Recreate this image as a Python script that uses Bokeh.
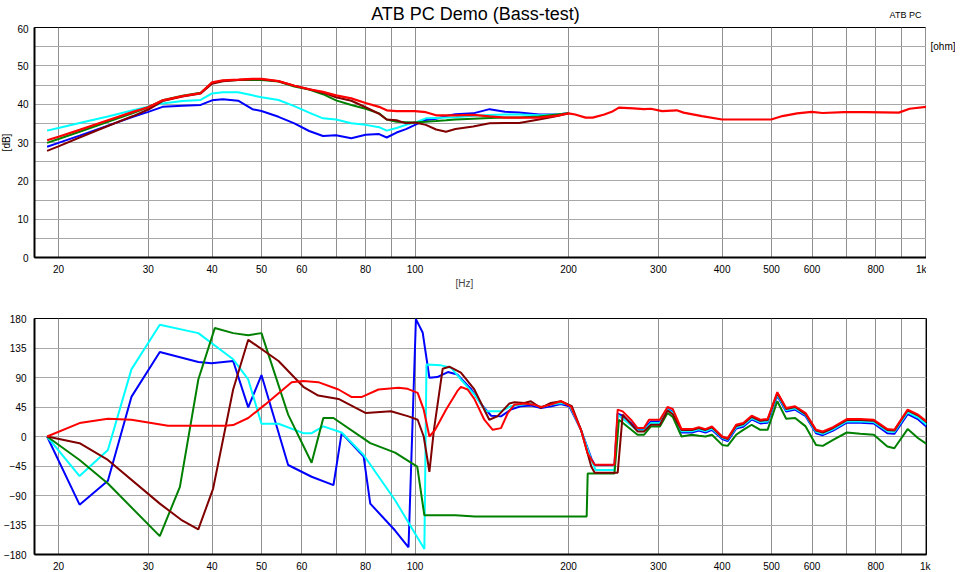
import math
from bokeh.plotting import figure
from bokeh.models import FixedTicker, CustomJSTickFormatter, Label, Title, Range1d
from bokeh.layouts import column, row
from bokeh.embed import file_html
from bokeh.resources import INLINE

# ---------------- data ----------------
X_TICKS = [20, 30, 40, 50, 60, 80, 100, 200, 300, 400, 500, 600, 800, 1000]
X_MINOR = [70, 90, 700, 900]
DB_TICKS = [0, 10, 20, 30, 40, 50, 60]
DB_MINOR = [5, 15, 25, 35, 45, 55]
DEG_TICKS = [-180, -135, -90, -45, 0, 45, 90, 135, 180]

TITLE = "ATB PC Demo (Bass-test)"

# magnitude [dB] vs frequency [Hz]
mag_hz = [19, 20, 22, 25, 28, 30, 32, 35, 38, 40, 42, 45, 48, 50, 54, 58, 62, 66, 70,
          75, 80, 85, 88, 92, 96, 100, 105, 110, 115, 120, 130, 140, 150, 160, 175, 190, 200]
mag_blue = [28.9, 29.9, 31.8, 34.4, 36.7, 38.0, 39.3, 39.6, 39.8, 41.0, 41.3, 40.9, 38.7, 38.2,
            36.7, 35.0, 33.0, 31.7, 31.9, 31.1, 32.0, 32.2, 31.3, 32.6, 33.5, 34.6, 35.9, 36.2,
            36.9, 37.4, 37.6, 38.7, 38.0, 37.8, 37.3, 37.3, 37.6]
mag_cyan = [33.1, 33.8, 35.1, 36.8, 38.4, 39.3, 40.2, 40.8, 41.1, 42.8, 43.1, 43.1, 42.3, 41.8,
            41.1, 39.5, 37.8, 36.3, 36.0, 35.0, 34.6, 34.0, 33.1, 33.8, 34.6, 35.2, 36.3, 36.4,
            36.5, 36.6, 37.0, 37.2, 37.3, 37.3, 37.1, 37.3, 37.6]
mag_green = [29.9, 30.9, 32.8, 35.4, 37.7, 39.2, 41.0, 42.2, 43.0, 45.5, 46.1, 46.3, 46.3, 46.3,
             45.9, 44.6, 43.8, 42.6, 41.0, 39.8, 38.8, 37.6, 36.0, 35.4, 35.3, 35.2, 35.4, 35.6,
             35.8, 36.0, 36.2, 36.4, 36.5, 36.5, 36.8, 37.3, 37.6]
mag_maroon = [27.8, 29.0, 31.3, 34.3, 36.9, 38.6, 40.8, 42.0, 42.8, 45.3, 46.0, 46.3, 46.5, 46.5,
              46.0, 44.8, 43.9, 43.0, 41.8, 40.9, 39.2, 37.5, 36.0, 35.8, 35.0, 35.2, 34.6, 33.4,
              32.8, 33.5, 34.2, 35.0, 35.1, 35.1, 36.0, 36.9, 37.6]
mag_red_lo = [30.6, 31.5, 33.3, 35.8, 38.0, 39.2, 41.0, 42.1, 42.9, 45.7, 46.2, 46.4, 46.6, 46.6,
              46.0, 44.8, 43.9, 43.2, 42.3, 41.5, 40.3, 39.3, 38.4, 38.2, 38.2, 38.2, 37.9, 37.1,
              37.1, 37.1, 37.2, 36.8, 36.5, 36.5, 36.5, 37.0, 37.6]
mag_red_hi_hz = [206, 216, 223, 235, 243, 251, 268, 281, 290, 305, 326, 336, 365, 400, 438,
                 499, 525, 561, 599, 629, 694, 765, 888, 932, 1006]
mag_red_hi = [37.3, 36.5, 36.5, 37.3, 38.0, 39.1, 38.9, 38.7, 38.8, 38.2, 38.4, 37.8, 36.9, 36.0,
              36.0, 36.0, 36.9, 37.6, 38.0, 37.7, 37.9, 37.9, 37.8, 38.8, 39.3]

# phase [deg] vs frequency [Hz]; low part per series, high part on a shared grid
ph_hi_hz = [333, 349, 360, 371, 382, 400, 410, 426, 440, 457, 475, 491, 513, 534, 556, 583,
            611, 630, 660, 702, 746, 793, 843, 870, 924, 969, 1006]

ph_blue_hz = [19, 22, 25, 27.8, 31.6, 37.6, 39.9, 44, 47.1, 50, 56.4, 62.7, 69.2, 71.8, 79.3,
              81.7, 91.4, 97.1, 100.4, 103.5, 106.7, 110.5, 116, 121, 129, 135, 141, 147.4, 154,
              161, 169, 176.5, 185, 193, 200.6, 211.5, 221.6, 225, 246, 249.6, 255.3, 273, 281,
              290, 302, 312.6, 320]
ph_blue = [0, -104, -67.6, 60.4, 129, 113.7, 111.6, 115.2, 44.5, 93.7, -43.5, -61.4, -74.2, 5.1,
           -30.7, -102.4, -143.4, -169, 179, 158.7, 89.6, 90.6, 98.3, 94.7, 71.7, 48.6, 31.7, 30.7,
           41, 46.1, 47.1, 43.5, 46.1, 49.7, 46.1, 10.2, -33.3, -43.5, -43.5, 34.8, 31.7, 11.3,
           11.3, 23, 23, 42, 38]
ph_blue_hi = [6, 6, 9, 6, 10, -4, -7, 12, 15, 26, 20, 21, 62, 38, 41, 31, 5, 2, 9, 21, 21, 20,
              5, 4, 34, 26, 15]

ph_cyan_hz = [19, 22, 25, 27.8, 31.6, 37.6, 44, 47.1, 50, 54, 60.4, 62.7, 66.1, 71.8, 79.3, 91.4,
              104.3, 105.3, 112.5, 117.6, 123, 130.7, 138, 147.4, 154, 161, 169, 176.5, 185, 193,
              200.6, 211.5, 221.6, 226, 246, 249.6, 273, 281, 290, 302, 312.6, 320]
ph_cyan = [0, -60.4, -20.5, 102.4, 170.5, 157.7, 117.8, 87, 19.5, 19.5, 5.1, 5.1, 15.4, 6.1,
           -28.2, -97.3, -171.5, 110, 108.5, 105, 87, 64, 38.4, 38.4, 46.1, 48.6, 50.2, 45.1,
           48.6, 51.2, 48.6, 10.2, -35.8, -51.2, -51.2, 33.3, 9.2, 9.2, 20.5, 20.5, 41, 36]
ph_cyan_hi = [8, 8, 11, 8, 12, -2, -5, 14, 17, 28, 22, 23, 64, 40, 43, 33, 7, 4, 11, 23, 23, 22,
              8, 7, 37, 29, 18]

ph_green_hz = [19, 22, 25, 31.6, 34.6, 37.6, 40.5, 44, 47.1, 50, 56.4, 62.7, 66.1, 69.2, 81.7,
               91.4, 101, 104.3, 120, 131, 217, 218, 246, 251, 273, 281, 290, 302, 312.6, 320]
ph_green = [0, -35.8, -71.7, -152, -76.8, 87, 165.4, 157.7, 154.6, 157.7, 33.3, -40, 28.2, 28.2,
            -10.2, -24.6, -46, -120.3, -120.3, -121.9, -122, -56.3, -56.3, 25.6, 2.6, 2.6, 15.4,
            15.4, 35.8, 30]
ph_green_hi = [0, 2.6, 1, 0, 2.6, -12.8, -14.3, 2.6, 10, 17.9, 10.2, 10.2, 53.8, 27, 28.2, 15.4,
               -12.8, -14.3, -5.1, 6.1, 4.1, 2.6, -15.4, -17.9, 11.3, -2.6, -11.3]

ph_maroon_hz = [19, 22, 25, 31.6, 34.8, 37.6, 40.2, 44, 47.1, 54, 60.4, 64.6, 70.8, 80.1, 89.7,
                97.1, 101.2, 104, 106.7, 108.9, 113.3, 116.7, 123, 130.7, 139.8, 145, 153, 156.6,
                163.8, 168.7, 176.5, 184.6, 193.1, 203, 211.5, 221.6, 225, 249.6, 255.3, 273, 281,
                290, 302, 312.6, 320]
ph_maroon = [0, -10.2, -35.8, -102.4, -127, -141.8, -79.4, 71.7, 147.5, 115.2, 75.8, 62.5, 57.3,
             35.8, 38.4, 30.7, 25.6, 0, -53.8, 10.2, 103.4, 106.5, 97.3, 71.7, 25.6, 30.7, 50.2,
             52.2, 51.2, 53.8, 43.5, 51.2, 53.8, 46.1, 10.2, -46.1, -55.3, -55.3, 33.3, 7.7, 7.7,
             17.9, 17.9, 39.9, 34]
ph_maroon_hi = [10, 10, 13, 10, 14, -1, -4, 16, 19, 30, 24, 25, 66, 42, 45, 34, 9, 6, 13, 25, 25,
                24, 10, 9, 40, 32, 22]

ph_red_hz = [19, 22, 25, 27.8, 32.8, 42.4, 44, 47.1, 50.8, 57.3, 60.4, 64.6, 70.8, 75, 78.7, 84.8,
             92.8, 96.7, 101.2, 104, 106.7, 109.5, 115, 121, 123, 126.8, 130.7, 136.7, 142, 147.4,
             152, 156.6, 163.8, 171.2, 176.5, 184.6, 193.1, 202, 211.5, 217.9, 224.9, 245.9,
             249.6, 255.3, 265, 273, 281, 287.5, 302, 312.6, 320]
ph_red = [0, 20.5, 27, 25.6, 16.4, 16.4, 17.4, 28.2, 48.6, 82.9, 84.5, 82.9, 71.7, 60.4, 60.4,
          71.7, 74.2, 72.7, 66.6, 40.9, 0, 10.2, 40.9, 69.1, 75.8, 71.7, 57.3, 25.6, 10.2, 12.8,
          35.8, 48.6, 50.2, 48.6, 45.1, 48.6, 53.8, 46.1, 10.2, -25.6, -43, -43, 41, 38.4, 25.6,
          12.8, 12.8, 25.6, 25.6, 45.1, 42]
ph_red_hi = [11.3, 11.3, 14.3, 11.3, 15.4, 0, -2.6, 17.9, 20.5, 31.7, 25.6, 26.6, 67.6, 43.5,
             46.1, 35.8, 10.2, 7.7, 14.3, 26.6, 26.6, 25.6, 11.3, 10.2, 41, 33.3, 23]

# ---------------- styling / layout ----------------
FONT = "Liberation Sans"
BLUE, CYAN, GREEN, MAROON, RED = "#0000ff", "#00ffff", "#008000", "#800000", "#ff0000"
X_RANGE = (17.95, 1006)
FRAME_W = 892
LEFT_B = 32
LEFT_STRIP = 14
RIGHT_B = 29
TOTAL_W = LEFT_B + FRAME_W + RIGHT_B      # 953
HEAD_H = 24
TOP_BT, TOP_H, TOP_BB = 3, 230, 37
BOT_BT, BOT_H, BOT_BB = 24, 236, 17
ROW_H = TOP_BT + TOP_H + TOP_BB


def base_fig(frame_h, yr, bl, bt, bb, br, y_ticks, y_minor, x_standoff, y_standoff):
    p = figure(title=None, frame_width=FRAME_W, frame_height=frame_h, x_axis_type="log",
               x_range=X_RANGE, y_range=yr, output_backend="svg", toolbar_location=None,
               min_border_left=bl, min_border_right=br, min_border_top=bt,
               min_border_bottom=bb)
    p.background_fill_color = "white"
    p.border_fill_color = "white"
    p.outline_line_color = "black"
    p.outline_line_width = 1
    p.xaxis.ticker = FixedTicker(ticks=X_TICKS, minor_ticks=X_MINOR)
    p.xaxis.formatter = CustomJSTickFormatter(
        code="const v = Math.round(tick); return v >= 1000 ? (v/1000) + 'k' : String(v);")
    p.yaxis.ticker = FixedTicker(ticks=y_ticks, minor_ticks=y_minor)
    for ax in (p.xaxis, p.yaxis):
        ax.axis_line_color = "black"
        ax.axis_line_width = 2
        ax.major_tick_line_color = None
        ax.minor_tick_line_color = None
        ax.major_label_text_font = FONT
        ax.major_label_text_font_size = "10px"
        ax.major_label_text_color = "black"
    p.xaxis.major_label_standoff = x_standoff
    p.yaxis.major_label_standoff = y_standoff
    p.xgrid.grid_line_color = "#909090"
    p.xgrid.minor_grid_line_color = "#909090"
    p.ygrid.grid_line_color = "#a8a8a8"
    p.ygrid.minor_grid_line_color = "#a8a8a8"
    return p


def blank_fig(w, h, xr=None):
    f = figure(title=None, width=w, height=h,
               x_range=Range1d(*(xr if xr else (0, w))), y_range=Range1d(h, 0),
               x_axis_location=None, y_axis_location=None, output_backend="svg",
               toolbar_location=None, min_border=0)
    f.outline_line_color = None
    f.grid.visible = False
    f.background_fill_color = "white"
    f.border_fill_color = "white"
    return f


def add_text(f, x, y, text, size, align="left", angle=0.0):
    f.add_layout(Label(x=x, y=y, text=text, text_font=FONT, text_font_size=size,
                       text_align=align, text_baseline="middle", angle=angle,
                       text_color="black"))


# ---- header strip: title and "ATB PC" (its frame lines up with the plot frames) ----
head = blank_fig(TOTAL_W, HEAD_H, (LEFT_B, LEFT_B + FRAME_W))
add_text(head, 474, 13, TITLE, "18px", "center")
add_text(head, 905, 14, "ATB PC", "9px", "center")

# ---- left strip: "[dB]" ----
left = blank_fig(LEFT_STRIP, ROW_H)
add_text(left, 6, 135, "[dB]", "10px", "center", math.pi / 2)

# ---- top: magnitude (default 6px tick space, labels right after it) ----
p1 = base_fig(TOP_H, (0, 60), LEFT_B - LEFT_STRIP, TOP_BT, TOP_BB, 0,
              DB_TICKS, DB_MINOR, 0, 0)
p1.add_layout(Title(text="[Hz]", align="left", offset=421, vertical_align="top",
                    text_font=FONT, text_font_size="10px", text_font_style="normal",
                    standoff=0), "below")
p1.line(mag_hz, mag_blue, color=BLUE, line_width=2)
p1.line(mag_hz, mag_cyan, color=CYAN, line_width=2)
p1.line(mag_hz, mag_green, color=GREEN, line_width=2)
p1.line(mag_hz, mag_maroon, color=MAROON, line_width=2)
p1.line(mag_hz + mag_red_hi_hz, mag_red_lo + mag_red_hi, color=RED, line_width=2.2)

# ---- right strip beside top plot: "[ohm]" ----
side = blank_fig(RIGHT_B, ROW_H)
add_text(side, 4, 22, "[ohm]", "10px", "left")

# ---- bottom: phase ----
p2 = base_fig(BOT_H, (-180, 180), LEFT_B, BOT_BT, BOT_BB, RIGHT_B, DEG_TICKS, [], 0, 2)
p2.line(ph_blue_hz + ph_hi_hz, ph_blue + ph_blue_hi, color=BLUE, line_width=2)
p2.line(ph_cyan_hz + ph_hi_hz, ph_cyan + ph_cyan_hi, color=CYAN, line_width=2)
p2.line(ph_green_hz + ph_hi_hz, ph_green + ph_green_hi, color=GREEN, line_width=2)
p2.line(ph_maroon_hz + ph_hi_hz, ph_maroon + ph_maroon_hi, color=MAROON, line_width=2)
p2.line(ph_red_hz + ph_hi_hz, ph_red + ph_red_hi, color=RED, line_width=2)

layout = column(head, row(left, p1, side, spacing=0), p2, spacing=0)
open("out.html", "w").write(file_html(layout, INLINE))
